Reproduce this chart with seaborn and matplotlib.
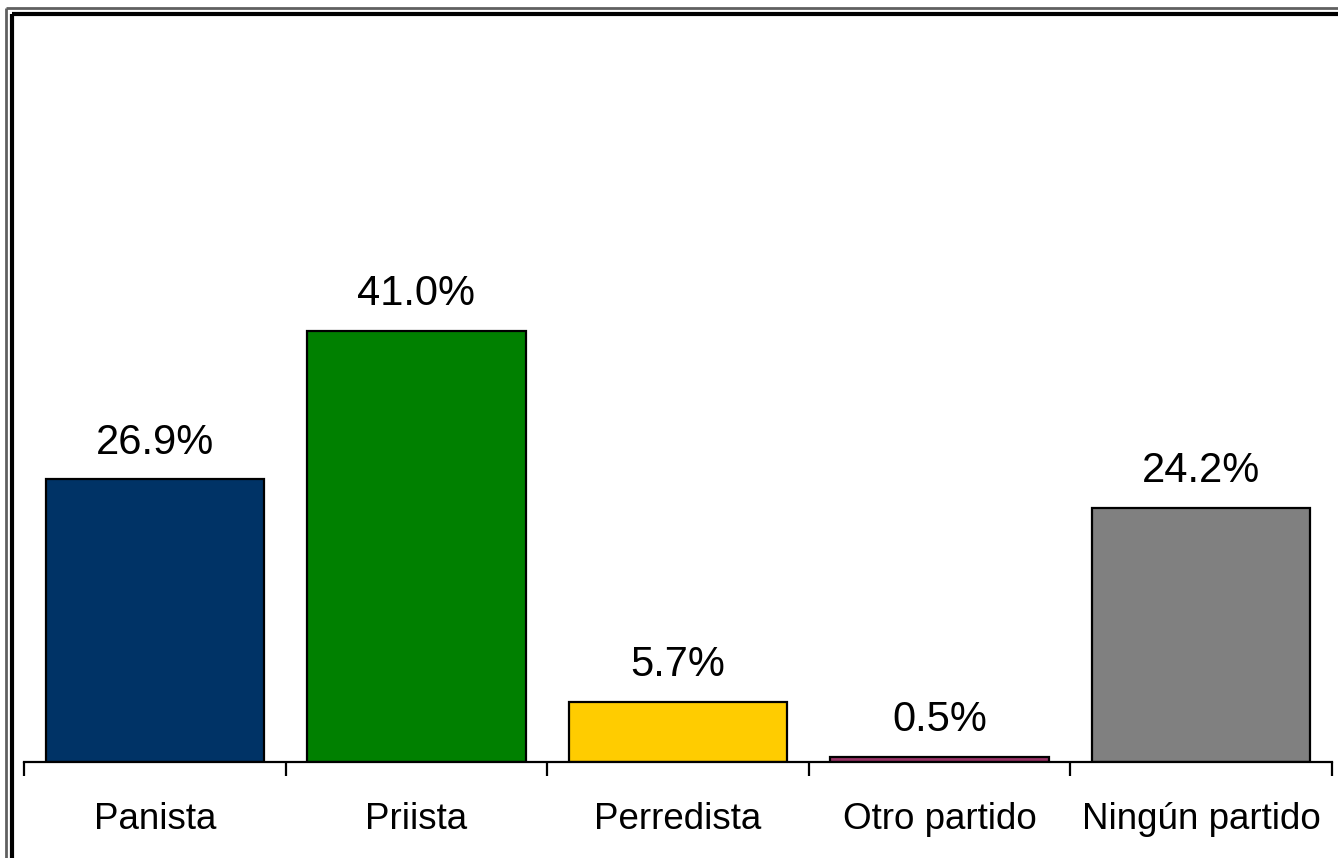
import pandas as pd
import seaborn as sns
import matplotlib.pyplot as plt
from matplotlib.lines import Line2D


# chart data
partidos = ['Panista', 'Priista', 'Perredista', 'Otro partido', 'Ningún partido']
porcentajes = [26.9, 41.0, 5.7, 0.5, 24.2]
colores = ['#003366', '#008000', '#FFCC00', '#993366', '#808080']

df = pd.DataFrame({'partido': partidos, 'pct': porcentajes})


#################### Bar chart ####################
sns.set_style("white")
plt.rcParams['font.family'] = ['Liberation Sans', 'DejaVu Sans']

W, H = 1338, 858
fig = plt.figure(figsize=(W / 100, H / 100), dpi=100)
ax = fig.add_axes([24 / W, 1 - 762 / H, (1332 - 24) / W, (762 - 40) / H])

sns.barplot(data=df,
            x='partido',
            y='pct',
            hue='partido',
            palette=colores,
            saturation=1,
            legend=False,
            errorbar=None,
            width=0.835,
            edgecolor='black',
            linewidth=1.6,
            ax=ax)

for c in ax.containers:
    ax.bar_label(c, labels=[f"{v:.1f}%" for v in c.datavalues],
                 padding=12, fontsize=30, color='black')

ax.set_xlim(-0.5, len(partidos) - 0.5)
ax.set_ylim(0, (762 - 40) / 10.51)
ax.set_yticks([])
ax.set_xlabel("")
ax.set_ylabel("")

# category separators as small ticks under the axis line
ax.set_xticks([i - 0.5 for i in range(len(partidos) + 1)], minor=True)
ax.tick_params(axis='x', which='minor', length=10, width=1.6, color='black', direction='out', bottom=True)
ax.tick_params(axis='x', which='major', length=0, pad=29, labelsize=26.5, labelcolor='black')

for s in ['top', 'right', 'left']:
    ax.spines[s].set_visible(False)
ax.spines['bottom'].set_linewidth(1.6)
ax.spines['bottom'].set_color('black')

# double frame at top-left of the picture
def fig_line(xs, ys, color, lw):
    fig.add_artist(Line2D([x / W for x in xs], [1 - y / H for y in ys],
                          transform=fig.transFigure, color=color, linewidth=lw,
                          solid_capstyle='butt'))

fig_line([6, 6], [8, H], '#606060', 2)
fig_line([6, W], [8, 8], '#606060', 2)
fig_line([12, 12], [14, H], 'black', 3)
fig_line([12, W], [14, 14], 'black', 3)

fig.savefig('out.png', dpi=100, facecolor='white')
